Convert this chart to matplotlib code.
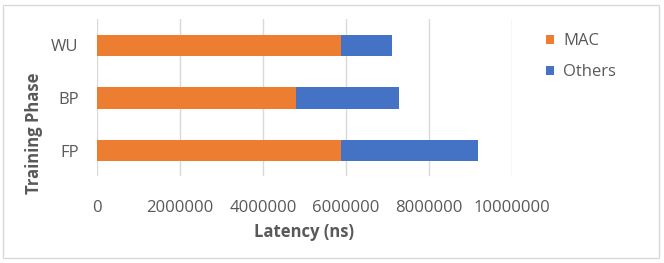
import matplotlib
matplotlib.use("Agg")
import matplotlib.pyplot as plt
from matplotlib.patches import Rectangle

phases = ["FP", "BP", "WU"]
mac = [5880000, 4810000, 5880000]
others = [3300000, 2470000, 1220000]
xticks = [0, 2000000, 4000000, 6000000, 8000000, 10000000]

orange = "#ED7D31"
blue = "#4472C4"
txt = "#595959"
grid = "#D9D9D9"

plt.rcParams['font.family'] = ['Open Sans', 'DejaVu Sans']

fig = plt.figure(figsize=(6.64, 2.63), dpi=100)
ax = fig.add_axes([96.7/664, 1-176/263, (512-96.7)/664, (176-19)/263])

y = list(range(len(phases)))
ax.barh(y, mac, height=0.4, color=orange, label="MAC", zorder=3)
ax.barh(y, others, left=mac, height=0.4, color=blue, label="Others", zorder=3)

ax.set_xlim(0, 10000000)
ax.set_ylim(-0.48, 2.5)
ax.set_xticks(xticks)
ax.set_xticklabels([str(v) for v in xticks])
ax.set_yticks(y)
ax.set_yticklabels(phases)
ax.tick_params(axis='both', length=0, labelsize=12, colors=txt)
ax.tick_params(axis='x', pad=17)
ax.tick_params(axis='y', pad=13)
ax.grid(axis='x', color=grid, linewidth=1, zorder=0)
for s in ax.spines.values():
    s.set_visible(False)

ax.set_xlabel("Latency (ns)", fontsize=12, fontweight='bold', color=txt)
ax.xaxis.set_label_coords(0.5, (176-232)/157, transform=ax.transAxes)
ax.set_ylabel("Training Phase", fontsize=12, fontweight='bold', color=txt)
ax.yaxis.set_label_coords((34-96.7)/415.3, (176-133)/157, transform=ax.transAxes)
ax.xaxis.label.set_va('center')
ax.yaxis.label.set_va('center')

handles, labels = ax.get_legend_handles_labels()
fig.legend(handles, labels, loc='upper left', bbox_to_anchor=(531/664, 1-18/263),
           frameon=False, handlelength=0.45, handleheight=0.45, handletextpad=0.6,
           labelspacing=0.93, fontsize=12, labelcolor=txt)

fig.patches.append(Rectangle((3/664, 5/263), 656/664, 253/263, transform=fig.transFigure,
                             fill=False, edgecolor=grid, linewidth=1))

fig.savefig("out.png", dpi=100, facecolor="white")
